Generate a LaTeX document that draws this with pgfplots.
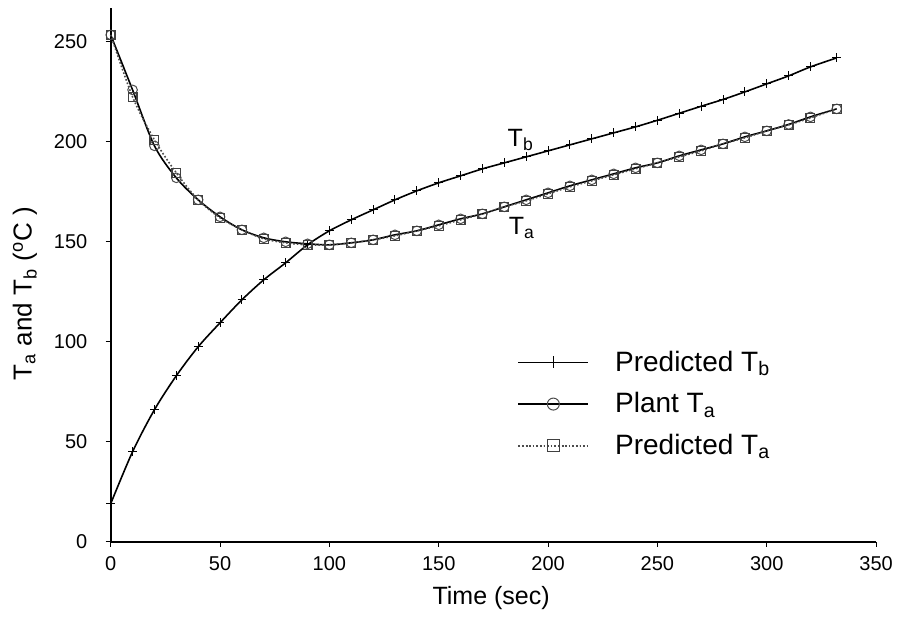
\documentclass[border=0pt]{standalone}
\usepackage{pgfplots}
\pgfplotsset{compat=1.18}
\usepackage{fontspec}
\setmainfont{Liberation Sans}
\pgfplotstableread{
t Tb
0 19
10 45
20 66
30 83
40 97.5
50 109.5
60 121
70 131
80 139.5
90 148.5
100 155.5
110 161
120 166
130 171
140 175.5
150 179.5
160 183
170 186.5
180 189.5
190 192.5
200 195.5
210 198.5
220 201.5
230 204.5
240 207.5
250 210.8
260 214.3
270 217.8
280 221.2
290 225
300 229
310 233
320 237.5
332 242
}\tbpred
\pgfplotstableread{
t Ta
0 253.5
10 226
20 198
30 182
40 171
50 162.5
60 156
70 152
80 150
90 149
100 148.5
110 149.5
120 151
130 153.5
140 155.5
150 158.5
160 161.5
170 164
180 167.5
190 171
200 174.5
210 178
220 181
230 184
240 187
250 189.5
260 193
270 196
280 199
290 202.5
300 205.5
310 208.7
320 212.5
332 216.5
}\taplant
\pgfplotstableread{
t Ta
0 253.5
10 222.5
20 201
30 184.5
40 171
50 162
60 156
70 151.5
80 149.5
90 148.5
100 148.5
110 149.5
120 151
130 153
140 155.5
150 158
160 161
170 164
180 167.5
190 170.5
200 174
210 177.5
220 180.5
230 183.5
240 186.5
250 189.5
260 192.5
270 195.5
280 199
290 202
300 205.5
310 208.5
320 212
332 216.5
}\tapred
\begin{document}
\begin{tikzpicture}
\begin{axis}[
  at={(0,0)}, anchor=south west,
  scale only axis,
  width=382.7pt, height=266.9pt,
  xmin=0, xmax=350, ymin=0, ymax=267,
  axis lines*=left,
  axis line style={line width=0.9pt},
  xtick={0,50,...,350}, ytick={0,50,...,250},
  tick align=outside, major tick length=2.5pt,
  tick style={line width=0.5pt, black},
  /pgf/number format/assume math mode=true,
  ticklabel style={font=\fontsize{10}{12}\selectfont},
  yticklabel style={inner sep=0pt, xshift=-9pt},
  xticklabel style={inner sep=0pt, yshift=-4.5pt},
  xlabel={Time (sec)},
  ylabel={T\textsubscript{a} and T\textsubscript{b} (\textsuperscript{o}C )},
  label style={font=\fontsize{12.5}{14}\selectfont},
  ylabel style={font=\fontsize{13}{15}\selectfont, at={(axis description cs:-0.112,0.465)}, anchor=center},
  xlabel style={at={(axis description cs:0.497,0)}, anchor=center, yshift=-28pt},
  legend style={at={(axis description cs:0.531,0.366)}, anchor=north west,
    draw=none, fill=none, inner sep=0pt, row sep=5.2pt,
    font=\fontsize{14}{16}\selectfont,
    nodes={inner sep=2pt},
    /tikz/every odd column/.append style={column sep=11pt}},
  legend cell align=left,
  legend image code/.code={\draw[mark repeat=2,mark phase=2,#1,mark size=3pt] plot coordinates {(0pt,0pt) (17.5pt,0pt) (35pt,0pt)};},
  clip=false,
]
\addplot[black, line width=0.8pt, smooth, mark=+, mark size=2.2pt, mark options={line width=0.5pt}] table[x=t,y=Tb] {\tbpred};
\addlegendentry{Predicted T\textsubscript{b}}
\addplot[black, line width=0.8pt, smooth, mark=o, mark size=2.4pt, mark options={line width=0.5pt, black!70}] table[x=t,y=Ta] {\taplant};
\addlegendentry{Plant T\textsubscript{a}}
\addplot[black!70, line width=0.8pt, densely dotted, smooth, mark=square, mark size=2.2pt, mark options={solid, line width=0.6pt, black!75}] table[x=t,y=Ta] {\tapred};
\addlegendentry{Predicted T\textsubscript{a}}
\node[font=\fontsize{12.5}{14}\selectfont] at (axis cs:187.5,201) {T\textsubscript{b}};
\node[font=\fontsize{12.5}{14}\selectfont] at (axis cs:188,157) {T\textsubscript{a}};
\end{axis}
\pgfresetboundingbox
\path[use as bounding box] (-55.35pt,-37.65pt) rectangle (393.15pt,270.85pt);
\end{tikzpicture}
\end{document}
